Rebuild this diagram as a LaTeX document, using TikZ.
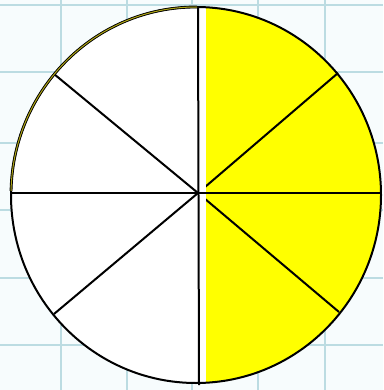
\documentclass[tikz,border=0pt]{standalone}
\definecolor{paper}{RGB}{247,252,253}
\definecolor{gridline}{RGB}{188,220,226}
\definecolor{halfyellow}{RGB}{255,255,0}
\definecolor{rimolive}{RGB}{175,165,20}
\usepackage{tikz}

\begin{document}
\begin{tikzpicture}[x=1pt,y=-1pt,
        gridrule/.style={draw=gridline,line width=2.4pt},
        rim/.style={draw=black,line width=2pt},
        spoke/.style={draw=black,line width=2pt}]
  \fill[paper] (0,0) rectangle (383,390);
  \useasboundingbox (0,0) rectangle (383,390);
  % squared paper
  \foreach \gx in {61,127,192,258,325}
    \draw[gridrule] (\gx,0) -- (\gx,390);
  \foreach \gy in {5,72,143,210,278,345}
    \draw[gridrule] (0,\gy) -- (383,\gy);
  % disc and rim points
  \coordinate (mid) at (196,195);
  \coordinate (hub) at (198,193);
  \coordinate (n) at (198,8);
  \coordinate (s) at (199,385);
  \coordinate (w) at (11,193);
  \coordinate (e) at (381,193);
  \coordinate (nw) at (54,74);
  \coordinate (ne) at (338,73);
  \coordinate (se) at (339,312);
  \coordinate (sw) at (54,314);
  \fill[white] (mid) ellipse [x radius=185,y radius=188];
  % shaded half, set off from the cut
  \begin{scope}
    \clip (206,0) rectangle (383,390);
    \fill[halfyellow] (mid) ellipse [x radius=185,y radius=188];
    \draw[spoke] (hub) -- (ne);
    \draw[spoke] (hub) -- (se);
  \end{scope}
  \draw[spoke] (w) -- (e);
  \draw[spoke] (n) -- (s);
  \draw[spoke] (hub) -- (nw);
  \draw[spoke] (hub) -- (sw);
  \draw[rim] (mid) ellipse [x radius=185,y radius=188];
  \begin{scope}
    \clip (0,0) rectangle (197,190);
    \draw[black,line width=2.8pt] (mid) ellipse [x radius=185,y radius=188];
    \draw[rimolive,line width=1pt] (mid) ellipse [x radius=185,y radius=188];
  \end{scope}
\end{tikzpicture}
\end{document}
